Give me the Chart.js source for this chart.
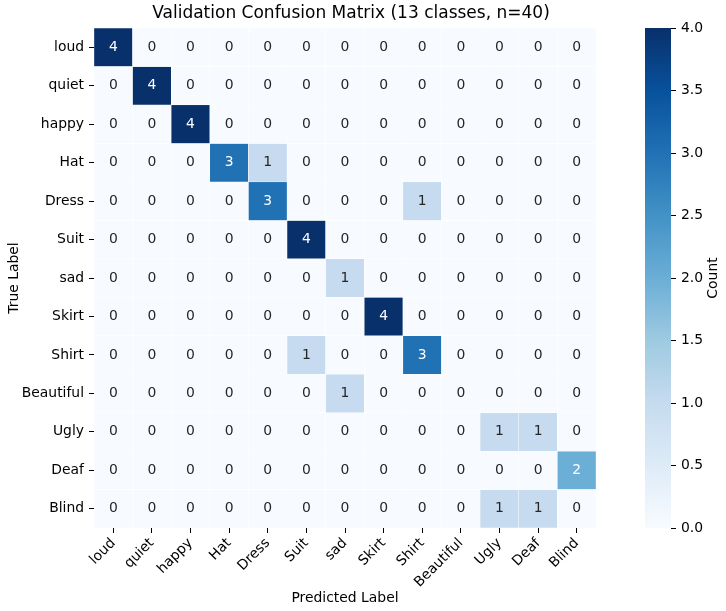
<!DOCTYPE html>
<html>
<head>
<meta charset="utf-8">
<script src="https://cdn.jsdelivr.net/npm/chart.js@4.4.1/dist/chart.umd.min.js"></script>
<style>
html,body{margin:0;padding:0;background:#fff;}
#wrap{position:relative;width:726px;height:611px;overflow:hidden;}
#main{position:absolute;left:0;top:0;}
#cbar{position:absolute;left:626px;top:0;}
</style>
</head>
<body>
<div id="wrap">
<canvas id="main" width="726" height="611"></canvas>
<canvas id="cbar" width="100" height="611"></canvas>
</div>
<script>
// ---------- data ----------
const chartTitle = 'Validation Confusion Matrix (13 classes, n=40)';
const predictedLabels = ['loud','quiet','happy','Hat','Dress','Suit','sad','Skirt','Shirt','Beautiful','Ugly','Deaf','Blind'];
const trueLabels = ['loud','quiet','happy','Hat','Dress','Suit','sad','Skirt','Shirt','Beautiful','Ugly','Deaf','Blind'];
// rows = true label, columns = predicted label
const confusion = [
  [4,0,0,0,0,0,0,0,0,0,0,0,0],
  [0,4,0,0,0,0,0,0,0,0,0,0,0],
  [0,0,4,0,0,0,0,0,0,0,0,0,0],
  [0,0,0,3,1,0,0,0,0,0,0,0,0],
  [0,0,0,0,3,0,0,0,1,0,0,0,0],
  [0,0,0,0,0,4,0,0,0,0,0,0,0],
  [0,0,0,0,0,0,1,0,0,0,0,0,0],
  [0,0,0,0,0,0,0,4,0,0,0,0,0],
  [0,0,0,0,0,1,0,0,3,0,0,0,0],
  [0,0,0,0,0,0,1,0,0,0,0,0,0],
  [0,0,0,0,0,0,0,0,0,0,1,1,0],
  [0,0,0,0,0,0,0,0,0,0,0,0,2],
  [0,0,0,0,0,0,0,0,0,0,1,1,0]
];
const colorbarMin = 0;
const colorbarMax = 4;
const colorbarStep = 0.5;

// ---------- colormap (matplotlib "Blues") ----------
const BLUES = [[247,251,255],[222,235,247],[198,219,239],[158,202,225],[107,174,214],[66,146,198],[33,113,181],[8,81,156],[8,48,107]];
function bluesRGB(t){
  t = Math.max(0, Math.min(1, t));
  const p = t * (BLUES.length - 1);
  const i = Math.min(Math.floor(p), BLUES.length - 2);
  const f = p - i;
  return BLUES[i].map((c, k) => Math.round(c + (BLUES[i+1][k] - c) * f));
}
function blues(t){ const c = bluesRGB(t); return `rgb(${c[0]},${c[1]},${c[2]})`; }
function textColorFor(t){
  const c = bluesRGB(t).map(v => { v /= 255; return v <= 0.03928 ? v/12.92 : Math.pow((v+0.055)/1.055, 2.4); });
  const lum = 0.2126*c[0] + 0.7152*c[1] + 0.0722*c[2];
  return lum > 0.408 ? '#262626' : '#ffffff';
}

const FONT = "'DejaVu Sans', sans-serif";
const TICK_COLOR = '#000';

// ---------- main heatmap ----------
const datasets = trueLabels.map((t, i) => ({
  label: t,
  data: confusion[i].map(() => [i, i + 1]),
  backgroundColor: confusion[i].map(v => blues((v - colorbarMin) / (colorbarMax - colorbarMin))),
  borderColor: '#ffffff',
  borderWidth: 0.5,
  borderSkipped: false,
  grouped: false,
  barPercentage: 1,
  categoryPercentage: 1
}));

const annotatePlugin = {
  id: 'annotate',
  afterDatasetsDraw(chart){
    const {ctx, scales: {x, y}} = chart;
    ctx.save();
    ctx.font = `13.9px ${FONT}`;
    ctx.textAlign = 'center';
    ctx.textBaseline = 'middle';
    confusion.forEach((row, i) => {
      row.forEach((v, j) => {
        ctx.fillStyle = textColorFor((v - colorbarMin) / (colorbarMax - colorbarMin));
        ctx.fillText(String(v), x.getPixelForValue(j), y.getPixelForValue(i + 0.5));
      });
    });
    ctx.restore();
  }
};

const titlePlugin = {
  id: 'axesTitle',
  afterDraw(chart){
    const {ctx, chartArea} = chart;
    ctx.save();
    ctx.font = `17px ${FONT}`;
    ctx.fillStyle = '#000';
    ctx.textAlign = 'center';
    ctx.textBaseline = 'middle';
    ctx.fillText(chartTitle, (chartArea.left + chartArea.right) / 2 + 6, chartArea.top - 14);
    ctx.restore();
  }
};

new Chart(document.getElementById('main'), {
  type: 'bar',
  data: { labels: predictedLabels, datasets },
  options: {
    responsive: false,
    animation: false,
    events: [],
    layout: { padding: { left: 0, right: 130, top: 28, bottom: 0 } },
    plugins: {
      legend: { display: false },
      tooltip: { enabled: false },
      title: { display: false }
    },
    scales: {
      x: {
        type: 'category',
        offset: true,
        grid: { display: true, offset: false, drawOnChartArea: false, tickLength: 5, tickColor: TICK_COLOR, tickWidth: 1 },
        border: { display: false },
        ticks: { autoSkip: false, minRotation: 45, maxRotation: 45, padding: 2, color: TICK_COLOR, font: { family: FONT, size: 13.9 } },
        title: { display: true, text: 'Predicted Label', color: TICK_COLOR, font: { family: FONT, size: 13.9 }, padding: { top: 0, bottom: 4 } },
        afterFit(s){ s.height = 83; }
      },
      y: {
        type: 'linear',
        reverse: true,
        min: 0,
        max: trueLabels.length,
        afterBuildTicks(s){ s.ticks = trueLabels.map((_, i) => ({ value: i + 0.5 })); },
        grid: { display: true, drawOnChartArea: false, tickLength: 5, tickColor: TICK_COLOR, tickWidth: 1 },
        border: { display: false },
        ticks: { autoSkip: false, padding: 5, color: TICK_COLOR, font: { family: FONT, size: 13.9 }, callback: (v, i) => trueLabels[i] },
        title: { display: true, text: 'True Label', color: TICK_COLOR, font: { family: FONT, size: 13.9 }, padding: { top: 6, bottom: 0 } },
        afterFit(s){ s.width = 94; }
      }
    }
  },
  plugins: [annotatePlugin, titlePlugin]
});

// ---------- colorbar ----------
const countLabelPlugin = {
  id: 'countLabel',
  afterDraw(chart){
    const {ctx, scales: {y}} = chart;
    ctx.save();
    ctx.font = `13.9px ${FONT}`;
    ctx.fillStyle = TICK_COLOR;
    ctx.textAlign = 'center';
    ctx.textBaseline = 'middle';
    ctx.translate(y.right - 13, (y.top + y.bottom) / 2);
    ctx.rotate(-Math.PI / 2);
    ctx.fillText('Count', 0, 0);
    ctx.restore();
  }
};

new Chart(document.getElementById('cbar'), {
  type: 'bar',
  data: {
    labels: ['Count'],
    datasets: [{
      data: [[colorbarMin, colorbarMax]],
      backgroundColor(c){
        const chart = c.chart;
        const ys = chart.scales.y;
        if (!chart.chartArea || !ys) return blues(0.5);
        const g = chart.ctx.createLinearGradient(0, ys.getPixelForValue(colorbarMin), 0, ys.getPixelForValue(colorbarMax));
        BLUES.forEach((col, k) => g.addColorStop(k / (BLUES.length - 1), `rgb(${col[0]},${col[1]},${col[2]})`));
        return g;
      },
      borderWidth: 0,
      barPercentage: 1,
      categoryPercentage: 1
    }]
  },
  options: {
    responsive: false,
    animation: false,
    events: [],
    layout: { padding: { left: 19, right: 0, top: 28, bottom: 83 } },
    plugins: { legend: { display: false }, tooltip: { enabled: false } },
    scales: {
      x: { display: false },
      y: {
        position: 'right',
        min: colorbarMin,
        max: colorbarMax,
        grid: { display: true, drawOnChartArea: false, tickLength: 5, tickColor: TICK_COLOR, tickWidth: 1 },
        border: { display: false },
        ticks: { stepSize: colorbarStep, padding: 5, color: TICK_COLOR, font: { family: FONT, size: 13.9 }, callback: v => Number(v).toFixed(1) },
        afterFit(s){ s.width = 55; }
      }
    }
  },
  plugins: [countLabelPlugin]
});
</script>
</body>
</html>
